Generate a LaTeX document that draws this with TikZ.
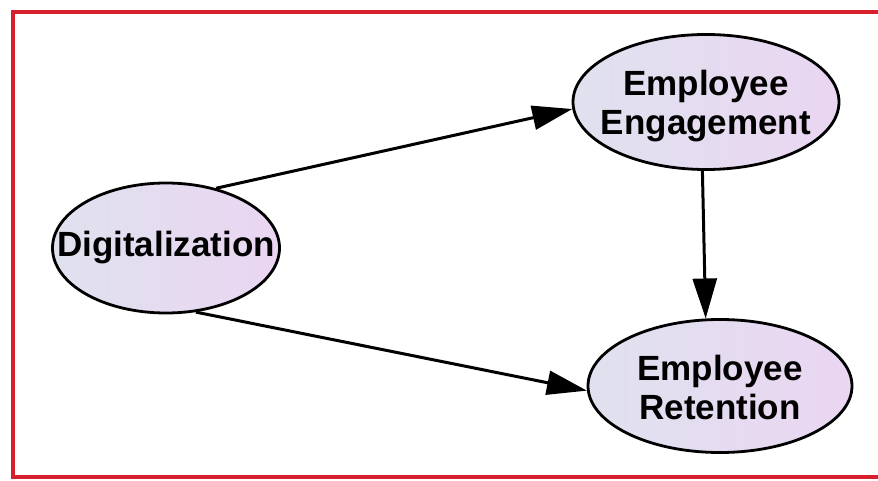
\documentclass[tikz,border=0pt]{standalone}
\usepackage{fontspec}
\setmainfont{Liberation Sans}
\usetikzlibrary{shapes.geometric, arrows.meta}
\definecolor{framered}{HTML}{D7202E}
\definecolor{nodeleft}{HTML}{E0E1EF}
\definecolor{noderight}{HTML}{EAD6F1}

\begin{document}
\begin{tikzpicture}[x=1pt,y=1pt,->,>={Triangle[length=40pt,width=24pt]},line width=3pt]
 % styles
 \tikzstyle{construct} = [ellipse,draw=black,line width=2.8pt,left color=nodeleft,right color=noderight,inner sep=0pt];
 \tikzstyle{caption} = [font=\fontsize{35}{39}\selectfont\bfseries,align=center,text=black];

 \useasboundingbox (0,0) rectangle (878,480);

 % frame
 \draw[-,framered,line width=4pt] (880,468) -| (13,3) -- (880,3);

 % nodes
 \node[construct,minimum width=227pt,minimum height=130pt,
       label={[caption]center:Digitalization}] (dig) at (166,232) {};
 \node[construct,minimum width=266pt,minimum height=135pt,
       label={[caption,yshift=-4pt]center:{Employee\\Engagement}}] (eng) at (706,378) {};
 \node[construct,minimum width=264pt,minimum height=133pt,
       label={[caption,yshift=-1pt]center:{Employee\\Retention}}] (ret) at (720,94) {};

 % edges
 \path (dig.50)  edge (eng.183);
 \path (dig.-65) edge (ret.182);
 \path (eng.267) edge (ret.102);
\end{tikzpicture}
\end{document}
